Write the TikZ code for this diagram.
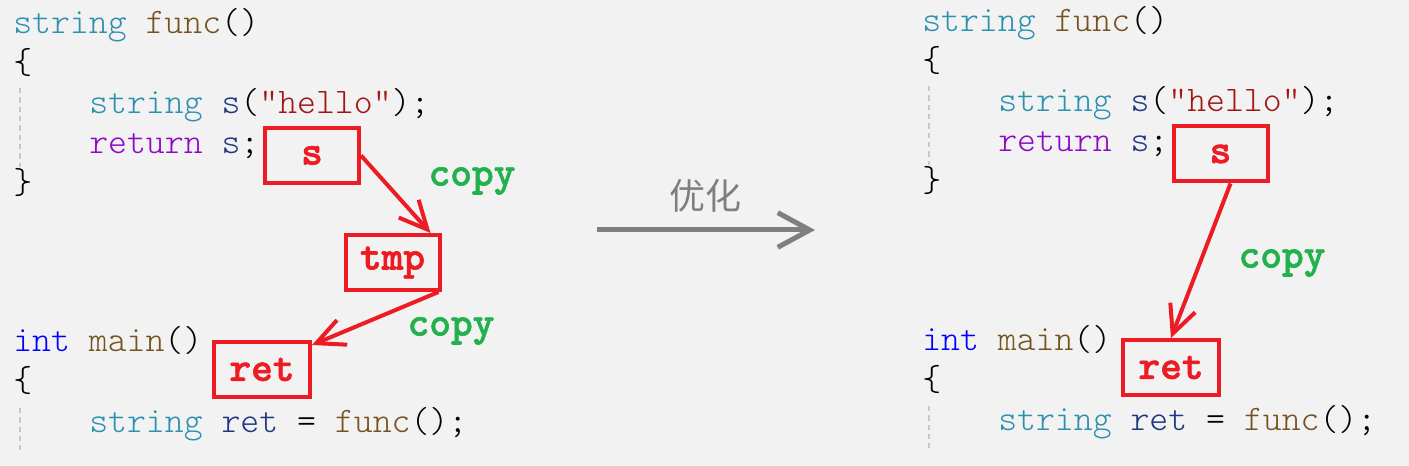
\documentclass[tikz,border=0pt]{standalone}
\usepackage{fontspec}
\usetikzlibrary{arrows.meta,calc}
\newfontfamily\cjk{Noto Sans CJK SC}
\newfontfamily\codefont{lmmonolt10-regular.otf}
\newfontfamily\labelfont{lmmonolt10-bold.otf}[FakeBold=1.5]
\definecolor{bgc}{HTML}{F2F2F2}
\definecolor{ctype}{HTML}{2B91AF}
\definecolor{cfunc}{HTML}{74531F}
\definecolor{ckey}{HTML}{8F08C4}
\definecolor{cvar}{HTML}{1F377F}
\definecolor{cstr}{HTML}{A31515}
\definecolor{cint}{HTML}{0000FF}
\definecolor{boxred}{HTML}{ED1C24}
\definecolor{copygreen}{HTML}{22B14C}
\definecolor{guidegray}{HTML}{C8C8C8}
\definecolor{optgray}{HTML}{7F7F7F}
\begin{document}
\begin{tikzpicture}[x=0.75pt,y=-0.75pt,
	code/.style={anchor=base west,inner sep=0pt,font=\codefont\fontsize{27}{30}\selectfont},
	redbox/.style={draw=boxred,line width=3pt,minimum width=70.5pt,minimum height=41.25pt,inner sep=0pt,text=boxred,font=\labelfont\fontsize{31}{32}\selectfont},
	copylbl/.style={inner sep=0pt,text=copygreen,font=\labelfont\fontsize{31}{32}\selectfont},
	redarrow/.style={draw=boxred,line width=3pt,-{Straight Barb[length=21pt,width=20pt]}},
	guide/.style={draw=guidegray,line width=1.5pt,dash pattern=on 4pt off 3pt}]
	\fill[bgc] (0,0) rectangle (1409,466);
	\useasboundingbox (0,0) rectangle (1409,466);
	% code, left and right
	\foreach \sd/\dx/\dy in {l/0/0, r/909/-2}{
		\node[code] (\sd f1) at (13+\dx,34+\dy) {\textcolor{ctype}{string} \textcolor{cfunc}{func}()};
		\node[code] (\sd f2) at (13+\dx,74+\dy) {\{};
		\node[code] (\sd f3) at (89+\dx,114+\dy) {\textcolor{ctype}{string} \textcolor{cvar}{s}(\textcolor{cstr}{"hello"});};
		\node[code] (\sd f4) at (89+\dx,154+\dy) {\textcolor{ckey}{return} \textcolor{cvar}{s};};
		\node[code] (\sd f5) at (13+\dx,194+\dy) {\}};
		\node[code] (\sd m1) at (13+\dx,352+\dy) {\textcolor{cint}{int} \textcolor{cfunc}{main}()};
		\node[code] (\sd m2) at (13+\dx,392+\dy) {\{};
		\node[code] (\sd m3) at (89+\dx,432+\dy) {\textcolor{ctype}{string} \textcolor{cvar}{ret} = \textcolor{cfunc}{func}();};
		\draw[guide] (20+\dx,88+\dy)--(20+\dx,167+\dy) (20+\dx,408+\dy)--(20+\dx,450+\dy);
	}
	% left: two copies
	\node[redbox] (sl) at (312,155.5) {s};
	\node[redbox] (tmp) at (392.5,262.5) {tmp};
	\node[redbox,minimum width=72pt] (retl) at (262,369.5) {ret};
	\draw[redarrow] (sl.east) -- ($(tmp.north east)+(-11,0)$);
	\draw[redarrow] ($(tmp.south east)+(-3,0)$) -- ($(retl.north east)+(0,5)$);
	\node[copylbl] (cp1) at (472,181) {copy};
	\node[copylbl] (cp2) at (451,331) {copy};
	% optimisation arrow
	\coordinate (optA) at (597,230);
	\coordinate (optB) at (815,230);
	\draw[optgray,line width=3.75pt,-{Straight Barb[length=24pt,width=26pt]}] (optA) -- (optB);
	\node[text=optgray,font=\cjk\fontsize{27}{30}\selectfont] (opt) at (705,196) {优化};
	% right: one copy
	\node[redbox] (sr) at (1220.5,154) {s};
	\node[redbox,minimum width=72pt] (retr) at (1171,367.5) {ret};
	\draw[redarrow] ($(sr.south)+(10,0)$) -- (retr.north);
	\node[copylbl] (cp3) at (1282,263) {copy};
\end{tikzpicture}
\end{document}
